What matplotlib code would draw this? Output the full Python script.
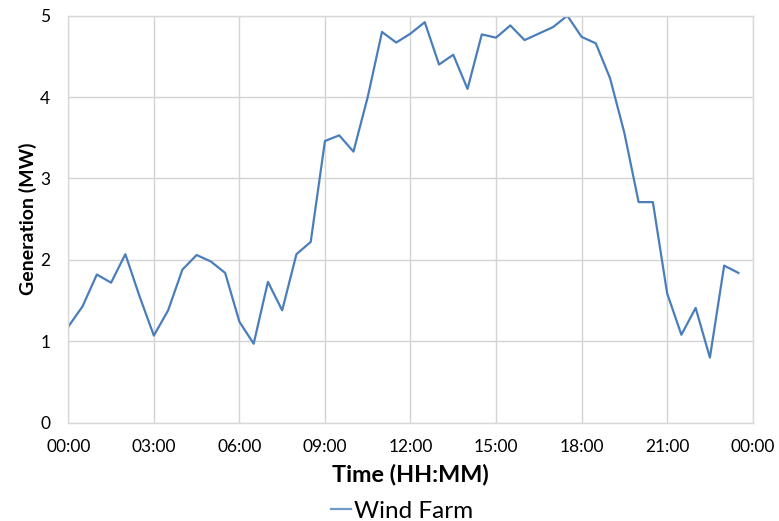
import matplotlib
matplotlib.use("Agg")
import matplotlib.pyplot as plt
import numpy as np

plt.rcParams['font.family'] = ['Lato', 'DejaVu Sans']

hours = np.arange(0, 24, 0.5)
wind_farm = [1.18, 1.43, 1.82, 1.72, 2.07, 1.55, 1.07, 1.38, 1.88, 2.06,
             1.98, 1.84, 1.24, 0.97, 1.73, 1.38, 2.07, 2.22, 3.46, 3.53,
             3.33, 4.00, 4.80, 4.67, 4.78, 4.92, 4.40, 4.52, 4.10, 4.77,
             4.73, 4.88, 4.70, 4.78, 4.86, 5.00, 4.74, 4.66, 4.23, 3.56,
             2.71, 2.71, 1.59, 1.08, 1.41, 0.80, 1.93, 1.84]
xticks = [0, 3, 6, 9, 12, 15, 18, 21, 24]
xticklabels = ["00:00", "03:00", "06:00", "09:00", "12:00", "15:00",
               "18:00", "21:00", "00:00"]
yticks = [0, 1, 2, 3, 4, 5]

fig = plt.figure(figsize=(7.79, 5.21), dpi=100)
ax = fig.add_axes([0.0877, 0.1887, 0.8785, 0.7812])

line, = ax.plot(hours, wind_farm, color='#4a7ebb', lw=1.6, label='Wind Farm')

ax.set_xlim(0, 24)
ax.set_ylim(0, 5)
ax.set_xticks(xticks)
ax.set_xticklabels(xticklabels)
ax.set_yticks(yticks)
ax.grid(True, color='#d4d4d4', lw=1.0)
ax.set_axisbelow(True)
for s in ax.spines.values():
    s.set_color('#d9d9d9')
    s.set_linewidth(1.0)
ax.tick_params(length=0, labelsize=12.5, colors='#000000')
ax.tick_params(axis='x', pad=12)
ax.tick_params(axis='y', pad=13)

ax.set_xlabel('Time (HH:MM)', fontsize=16.8, fontweight='bold', labelpad=6)
ax.set_ylabel('Generation (MW)', fontsize=14, fontweight='bold', labelpad=2)

leg = fig.legend(handles=[line], loc='center', bbox_to_anchor=(0.516, 0.019),
                 frameon=False, fontsize=17.5, handlelength=0.8,
                 handletextpad=0.12, borderpad=0)
leg.get_lines()[0].set_color('#6f9ad0')

fig.savefig('out.png', dpi=100)
